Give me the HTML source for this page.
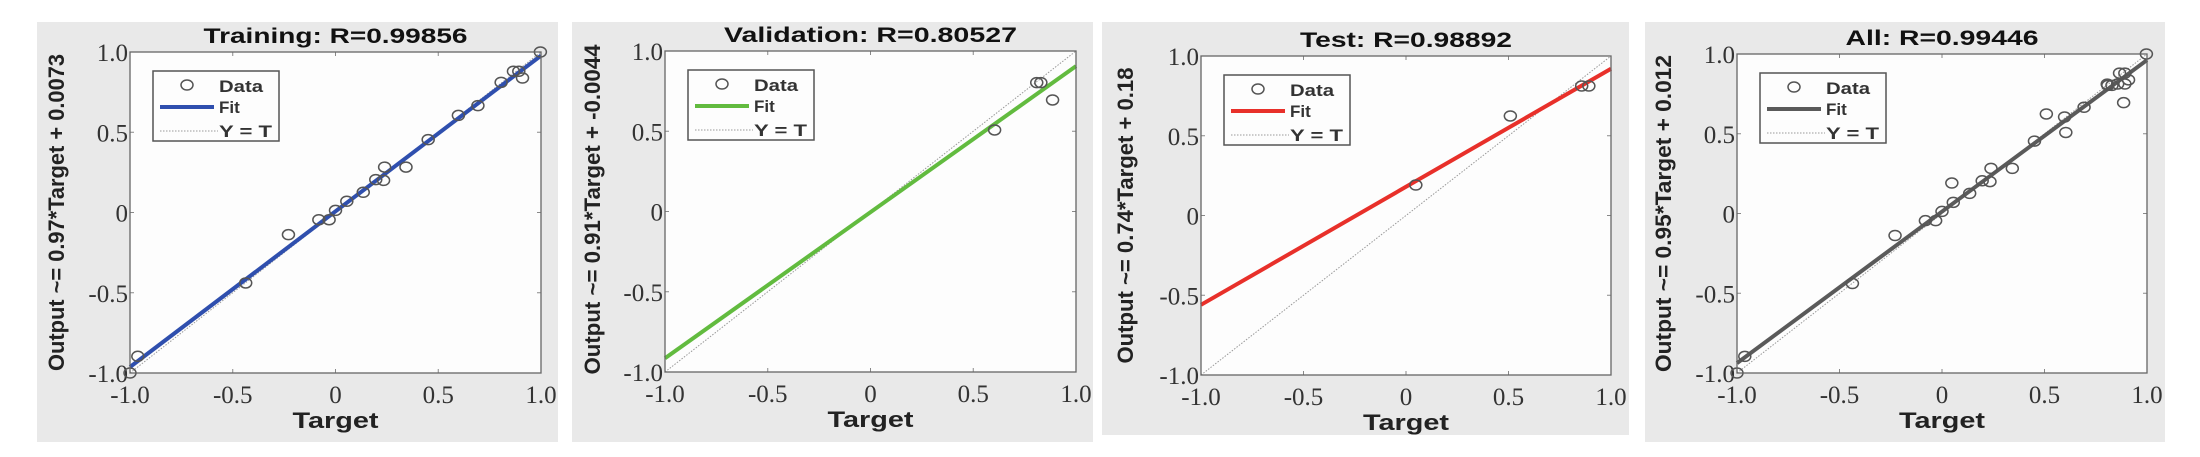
<!DOCTYPE html>
<html><head><meta charset="utf-8"><style>
html,body{margin:0;padding:0;background:#fff;}
svg{display:block}
</style></head><body>
<svg id="s" width="2200" height="457" xmlns="http://www.w3.org/2000/svg"></svg>
<script>
var tr=[[-1,-1],[-0.962,-0.896],[-0.229,-0.138],[-0.437,-0.439],[-0.081,-0.045],[-0.031,-0.045],[0,0.013],[0.055,0.07],[0.135,0.126],[0.196,0.205],[0.239,0.283],[0.234,0.2],[0.343,0.283],[0.451,0.454],[0.598,0.605],[0.693,0.666],[0.806,0.811],[0.866,0.88],[0.892,0.88],[0.91,0.838],[0.997,1.0]];
var va=[[0.604,0.508],[0.809,0.803],[0.829,0.803],[0.886,0.695]];
var te=[[0.048,0.191],[0.509,0.624],[0.857,0.812],[0.892,0.812]];
var P=[
{bg:[37,558,22,442],ax:[130,541,52,373],t:"Training: R=0.99856",tl:264,yl:"Output ~= 0.97*Target + 0.0073",yll:317,ylx:56,c:"#2f4fae",m:0.97,b:0.0073,pts:tr},
{bg:[572,1093,22,442],ax:[665,1076,51,372],t:"Validation: R=0.80527",tl:293,yl:"Output ~= 0.91*Target + -0.0044",yll:330,ylx:592,c:"#62bb3f",m:0.91,b:-0.0044,pts:va},
{bg:[1102,1629,22,435],ax:[1201,1611,56,375],t:"Test: R=0.98892",tl:212,yl:"Output ~= 0.74*Target + 0.18",yll:296,ylx:1125,c:"#e8302a",m:0.74,b:0.18,pts:te},
{bg:[1645,2165,22,442],ax:[1737,2147,54,373],t:"All: R=0.99446",tl:193,yl:"Output ~= 0.95*Target + 0.012",yll:317,ylx:1663,c:"#5a5a5a",m:0.95,b:0.012,pts:tr.concat(va,te)}
];
var h="";
P.forEach(function(p){
 var L=p.ax[0],R=p.ax[1],T=p.ax[2],B=p.ax[3];
 function X(v){return L+(v+1)/2*(R-L);} function Y(v){return B-(v+1)/2*(B-T);}
 h+='<rect x="'+p.bg[0]+'" y="'+p.bg[2]+'" width="'+(p.bg[1]-p.bg[0])+'" height="'+(p.bg[3]-p.bg[2])+'" fill="#e9e9e9"/>';
 h+='<rect x="'+L+'" y="'+T+'" width="'+(R-L)+'" height="'+(B-T)+'" fill="#fdfdfd"/>';
 var tv=[-1,-0.5,0,0.5,1],tl=["-1.0","-0.5","0","0.5","1.0"];
 tv.forEach(function(v,i){
  var x=X(v),y=Y(v);
  h+='<line x1="'+x+'" y1="'+B+'" x2="'+x+'" y2="'+(B-4)+'" stroke="#888"/><line x1="'+x+'" y1="'+T+'" x2="'+x+'" y2="'+(T+4)+'" stroke="#888"/>';
  h+='<line x1="'+L+'" y1="'+y+'" x2="'+(L+4)+'" y2="'+y+'" stroke="#888"/><line x1="'+R+'" y1="'+y+'" x2="'+(R-4)+'" y2="'+y+'" stroke="#888"/>';
  h+='<text x="'+x+'" y="'+(B+30)+'" text-anchor="middle" font-family="Liberation Serif,serif" font-size="25" fill="#333">'+tl[i]+'</text>';
  h+='<text x="'+(L-2)+'" y="'+(y+9)+'" text-anchor="end" font-family="Liberation Serif,serif" font-size="25" fill="#333">'+tl[i]+'</text>';
 });
 h+='<line x1="'+X(-1)+'" y1="'+Y(-1)+'" x2="'+X(1)+'" y2="'+Y(1)+'" stroke="#999" stroke-width="1" stroke-dasharray="1.5,1.5"/>';
 var y0=p.m*-1+p.b,y1=p.m*1+p.b;
 h+='<line x1="'+X(-1)+'" y1="'+Y(y0)+'" x2="'+X(1)+'" y2="'+Y(y1)+'" stroke="'+p.c+'" stroke-width="4"/>';
 p.pts.forEach(function(q){h+='<ellipse cx="'+X(q[0])+'" cy="'+Y(q[1])+'" rx="6" ry="5" fill="none" stroke="#555" stroke-width="1.5"/>';});
 h+='<rect x="'+L+'" y="'+T+'" width="'+(R-L)+'" height="'+(B-T)+'" fill="none" stroke="#666" stroke-width="1.3"/>';
 h+='<rect x="'+(L+23)+'" y="'+(T+19)+'" width="126" height="70" fill="#fdfdfd" stroke="#555" stroke-width="1.5"/>';
 h+='<ellipse cx="'+(L+57)+'" cy="'+(T+33)+'" rx="6" ry="5" fill="none" stroke="#555" stroke-width="1.5"/>';
 h+='<line x1="'+(L+30)+'" y1="'+(T+55)+'" x2="'+(L+84)+'" y2="'+(T+55)+'" stroke="'+p.c+'" stroke-width="4"/>';
 h+='<line x1="'+(L+30)+'" y1="'+(T+79)+'" x2="'+(L+88)+'" y2="'+(T+79)+'" stroke="#999" stroke-dasharray="1.5,1.5"/>';
 var f='font-family="Liberation Sans,sans-serif" font-size="17" font-weight="bold" fill="#333" lengthAdjust="spacingAndGlyphs"';
 h+='<text x="'+(L+89)+'" y="'+(T+40)+'" '+f+' textLength="44">Data</text>';
 h+='<text x="'+(L+89)+'" y="'+(T+61)+'" '+f+'>Fit</text>';
 h+='<text x="'+(L+89)+'" y="'+(T+85)+'" '+f+' textLength="53">Y = T</text>';
 var cx=(L+R)/2;
 h+='<text x="'+cx+'" y="'+(T-9)+'" text-anchor="middle" font-family="Liberation Sans,sans-serif" font-size="21" font-weight="bold" fill="#111" textLength="'+p.tl+'" lengthAdjust="spacingAndGlyphs">'+p.t+'</text>';
 h+='<text x="'+cx+'" y="'+(B+55)+'" text-anchor="middle" font-family="Liberation Sans,sans-serif" font-size="22" font-weight="bold" fill="#222" textLength="86" lengthAdjust="spacingAndGlyphs">Target</text>';
 var cy=(T+B)/2+(p.yll>320?-2:0);
 h+='<text transform="translate('+(p.ylx+8)+','+cy+') rotate(-90)" text-anchor="middle" font-family="Liberation Sans,sans-serif" font-size="22" font-weight="bold" fill="#222" textLength="'+p.yll+'" lengthAdjust="spacingAndGlyphs">'+p.yl+'</text>';
});
document.getElementById("s").innerHTML=h;
</script>
</body></html>
